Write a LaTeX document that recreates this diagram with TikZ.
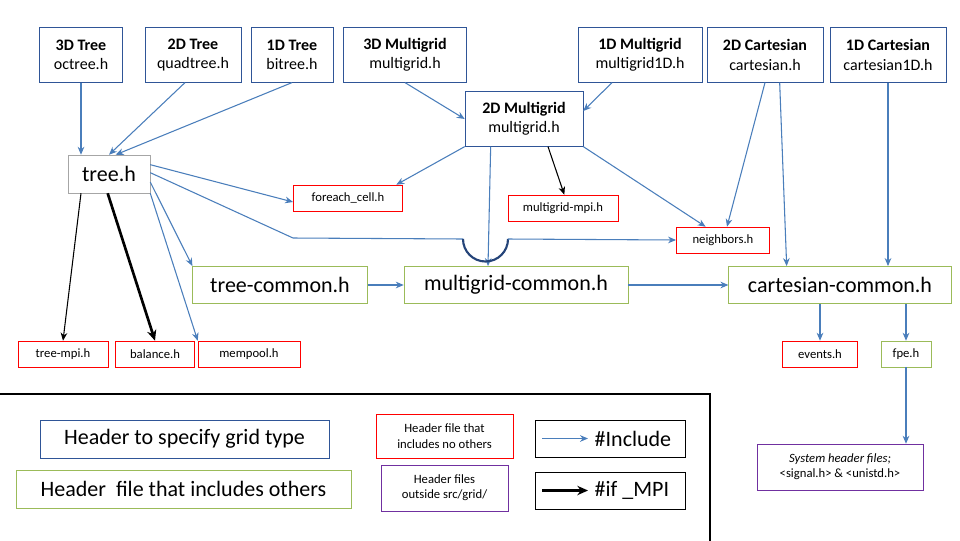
\documentclass[tikz,border=0pt]{standalone}
\usepackage{fontspec}
\setmainfont{Carlito}
\usetikzlibrary{arrows.meta}
\definecolor{gridblue}{HTML}{2F5597}
\definecolor{incblue}{HTML}{4A7EBB}
\definecolor{incgreen}{HTML}{9BBB59}
\definecolor{extpurple}{HTML}{7030A0}
\tikzstyle{gridbox}=[draw=gridblue,fill=white,align=center,font=\fontsize{12}{14.5}\selectfont,inner sep=0pt,minimum height=41pt]
\tikzstyle{greenbox}=[draw=incgreen,fill=white,font=\fontsize{16.5}{18}\selectfont,minimum height=28pt,inner sep=0pt]
\tikzstyle{redbox}=[draw=red,fill=white,font=\fontsize{9.5}{11}\selectfont,minimum height=19.5pt,inner sep=0pt]
\tikzstyle{inc}=[incblue,thick,-{Stealth[length=6pt,width=5pt]}]
\tikzstyle{mpi}=[black,thick,-{Stealth[length=6pt,width=5pt]}]
\begin{document}
\begin{tikzpicture}[x=0.75pt,y=-0.75pt]
	\useasboundingbox (0,0) rectangle (960,540);
	% grid type headers
	\node[gridbox,minimum width=62pt] (oct) at (81,55) {\textbf{3D Tree}\\octree.h};
	\node[gridbox,minimum width=72pt] (quad) at (193,55) {\textbf{2D Tree}\\quadtree.h};
	\node[gridbox,minimum width=61.5pt] (bi) at (292,55) {\textbf{1D Tree}\\bitree.h};
	\node[gridbox,minimum width=92pt] (mg3) at (405,55) {\textbf{3D Multigrid}\\multigrid.h};
	\node[gridbox,minimum width=88.5pt] (mg2) at (524,119) {\textbf{2D Multigrid}\\multigrid.h};
	\node[gridbox,minimum width=93pt] (mg1) at (640,55) {\textbf{1D Multigrid}\\multigrid1D.h};
	\node[gridbox,minimum width=87pt] (cart2) at (765,55) {\textbf{2D Cartesian}\\cartesian.h};
	\node[gridbox,minimum width=87pt] (cart1) at (888,55) {\textbf{1D Cartesian}\\cartesian1D.h};
	% includes others
	\node[draw=gray!70,fill=white,font=\fontsize{16.5}{18}\selectfont,minimum width=61.5pt,minimum height=28.5pt,inner sep=0pt] (tree) at (109,174) {tree.h};
	\node[greenbox,minimum width=131pt] (tcom) at (280,285) {tree-common.h};
	\node[greenbox,minimum width=168pt] (mcom) at (516,285) {multigrid-common.h};
	\node[greenbox,minimum width=167pt] (ccom) at (840,285) {cartesian-common.h};
	\node[draw=incgreen,fill=white,font=\fontsize{9.5}{11}\selectfont,minimum width=37.5pt,minimum height=19.5pt,inner sep=0pt] (fpe) at (906,354) {fpe.h};
	% leaf headers
	\node[redbox,minimum width=82pt] (fcell) at (348,198) {foreach\_cell.h};
	\node[redbox,minimum width=82.5pt] (mgmpi) at (563,208) {multigrid-mpi.h};
	\node[redbox,minimum width=70pt] (neigh) at (723,240) {neighbors.h};
	\node[redbox,minimum width=67.5pt] (tmpi) at (63,354) {tree-mpi.h};
	\node[redbox,minimum width=59pt] (bal) at (155,354) {balance.h};
	\node[redbox,minimum width=76.5pt] (mem) at (249,354) {mempool.h};
	\node[redbox,minimum width=56pt] (ev) at (820,354) {events.h};
	\node[draw=extpurple,fill=white,align=center,font=\fontsize{9.5}{11.5}\selectfont,minimum width=124.5pt,minimum height=34.5pt,inner sep=0pt] (sys) at (840,467) {\textit{System header files;}\\<signal.h> \& <unistd.h>};
	% includes
	\draw[inc] (oct.south) -- (tree.north -| oct.south);
	\draw[inc] ([xshift=-6pt]quad.south) -- ([xshift=0pt]tree.north);
	\draw[inc] (bi.south) -- ([xshift=5pt]tree.north);
	\draw[inc] (mg3.south) -- ([yshift=0pt]mg2.west);
	\draw[inc] ([xshift=-21pt]mg1.south) -- ([yshift=6pt]mg2.east);
	\draw[inc] ([yshift=7pt]tree.east) -- ([yshift=-3pt]fcell.west);
	\draw[inc] ([yshift=-6pt]tree.east) -- (tcom.north west);
	\draw[inc] (tree.south east) -- ([xshift=0pt]mem.north west);
	\draw[inc] (mg2.south west) -- ([xshift=-5pt]fcell.north east);
	\draw[inc] ([xshift=-25pt]mg2.south) -- ([xshift=-21pt]mcom.north);
	\draw[inc] (mg2.south east) -- ([xshift=-13pt]neigh.north);
	\draw[inc] ([xshift=0pt]cart2.south) -- ([xshift=3pt]neigh.north);
	\draw[inc] ([xshift=11pt]cart2.south) -- ([xshift=-40pt]ccom.north);
	\draw[inc] (cart1.south) -- (ccom.north -| cart1.south);
	\draw[inc] (tcom) -- (mcom);
	\draw[inc] (mcom) -- (ccom);
	\draw[inc] (ev.north |- ccom.south) -- (ev);
	\draw[inc] (fpe.north |- ccom.south) -- (fpe);
	\draw[inc] (fpe) -- (sys.north -| fpe);
	% crossing line with hop
	\coordinate (bend) at (293,238);
	\draw[incblue,thick] ([yshift=1pt]tree.east) -- (bend) -- (463,239);
	\draw[gridblue!80!black,line width=1.6pt] (463,239) arc (180:0:22.5);
	\draw[inc] (508,239) -- (neigh.west);
	% MPI
	\draw[mpi] ([xshift=-21pt]tree.south) -- (tmpi.north -| 63,0);
	\draw[mpi] ([xshift=18pt]mg2.south) -- ([xshift=1pt]mgmpi.north);
	\draw[black,line width=2pt,-{Stealth[length=8pt,width=7pt]}] ([xshift=-1pt]tree.south) -- (bal.north);
	% legend
	\draw[black,line width=2pt] (0,394) -- (710,394) -- (710,541);
	\node[draw=gridblue,font=\fontsize{16.5}{18}\selectfont,minimum width=216.5pt,minimum height=28.5pt,inner sep=0pt] (lgrid) at (184.5,439) {Header to specify grid type};
	\node[draw=incgreen,font=\fontsize{16.5}{18}\selectfont,minimum width=251pt,minimum height=28.5pt,inner sep=0pt] (lgreen) at (183.5,489) {Header~ file that includes others};
	\node[draw=red,align=center,font=\fontsize{9.5}{11.5}\selectfont,minimum width=103pt,minimum height=33pt,inner sep=0pt] (lred) at (444.5,436) {Header file that\\includes no others};
	\node[draw=extpurple,align=center,font=\fontsize{9.5}{11.5}\selectfont,minimum width=95pt,minimum height=34.5pt,inner sep=0pt] (lpurple) at (444.5,488) {Header files\\outside src/grid/};
	\node[draw=black,minimum width=112.5pt,minimum height=28pt,inner sep=0pt] (linc) at (610,438.5) {};
	\node[draw=black,minimum width=112.5pt,minimum height=28pt,inner sep=0pt] (lmpi) at (610,490.5) {};
	\coordinate (incstart) at (542,438.5);
	\coordinate (incend) at (588,438.5);
	\coordinate (mpistart) at (542,490.5);
	\coordinate (mpiend) at (588,490.5);
	\draw[inc] (incstart) -- (incend);
	\draw[black,line width=2pt,-{Stealth[length=8pt,width=7pt]}] (mpistart) -- (mpiend);
	\node[anchor=west,font=\fontsize{16.5}{18}\selectfont] (tinc) at (590,438.5) {\#Include};
	\node[anchor=west,font=\fontsize{16.5}{18}\selectfont] (tmpitext) at (590,490.5) {\#if \_MPI};
\end{tikzpicture}
\end{document}
